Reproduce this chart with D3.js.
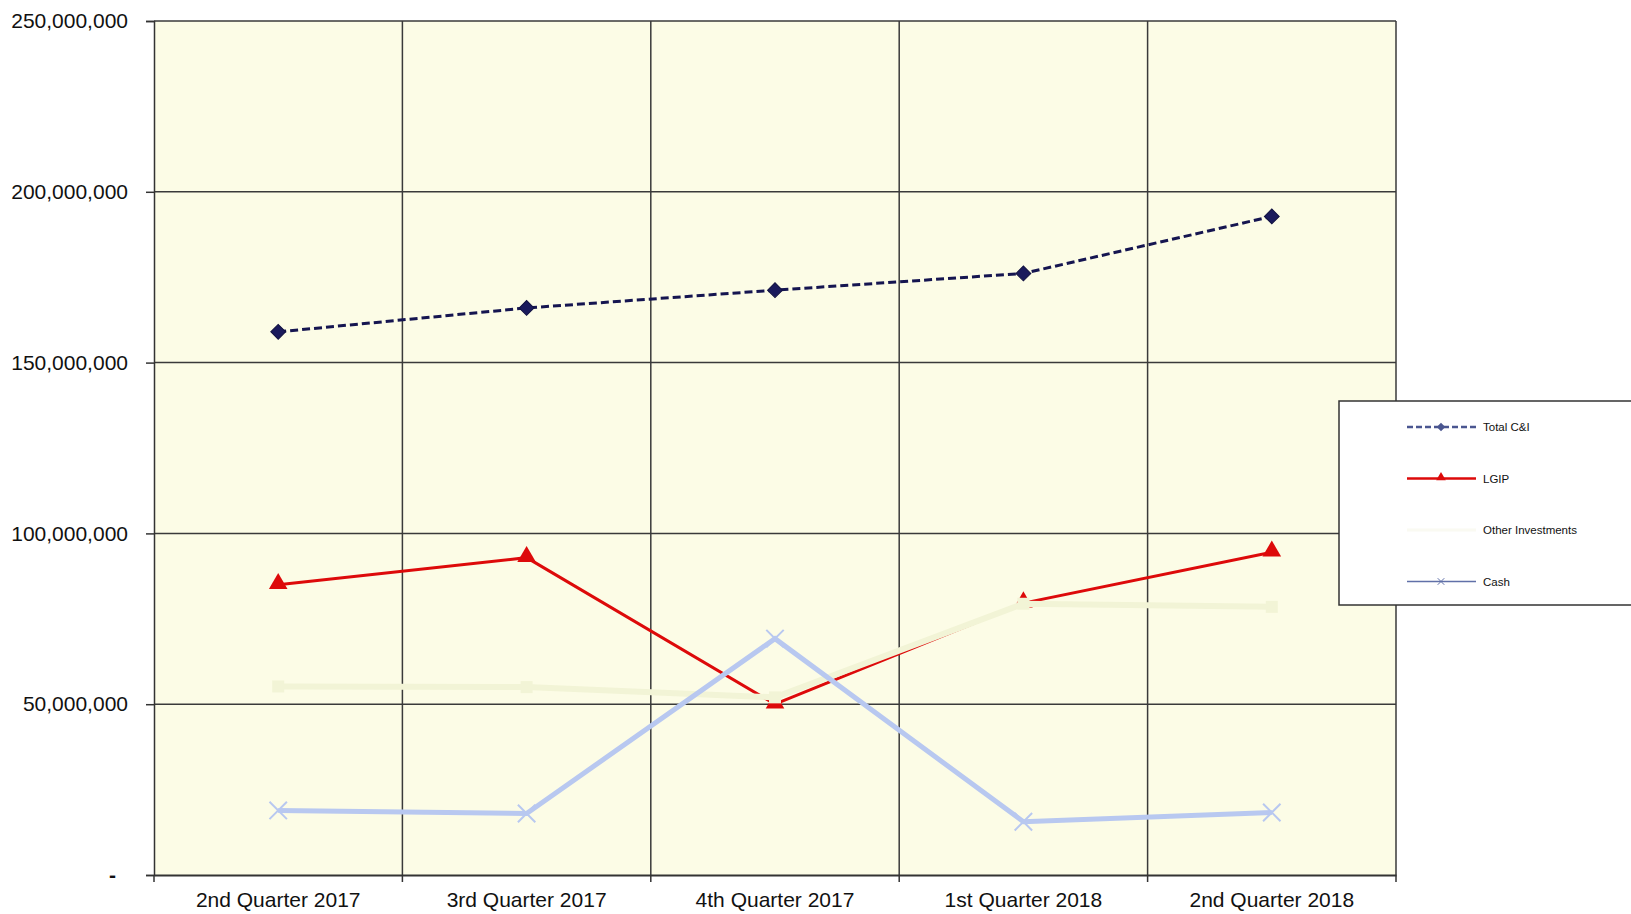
<!DOCTYPE html>
<html>
<head>
<meta charset="utf-8">
<script src="https://cdn.jsdelivr.net/npm/d3@7"></script>
<style>
  body { margin: 0; background: #fff; }
  svg { display: block; font-family: "Liberation Sans", Arial, sans-serif; }
</style>
</head>
<body>
<svg id="chart" width="1631" height="914"></svg>
<script>
// categories and series
var quarters = ["2nd Quarter 2017", "3rd Quarter 2017", "4th Quarter 2017", "1st Quarter 2018", "2nd Quarter 2018"];
var totalCI = [159.0e6, 166.0e6, 171.2e6, 176.1e6, 192.8e6];
var lgip = [85.0e6, 92.9e6, 50.0e6, 79.6e6, 94.5e6];
var otherInv = [55.2e6, 55.0e6, 52.0e6, 79.4e6, 78.5e6];
var cash = [18.9e6, 18.0e6, 69.2e6, 15.6e6, 18.3e6];
var yTicks = [0, 50e6, 100e6, 150e6, 200e6, 250e6];
var legendNames = ["Total C&I", "LGIP", "Other Investments", "Cash"];

var svg = d3.select("#chart");
// note: "top" is a reserved window prop, so use plot* names
var plotLeft = 154, plotRight = 1396, plotTop = 21, plotBottom = 875;

var x = d3.scaleBand().domain(quarters).range([plotLeft, plotRight]);
var y = d3.scaleLinear().domain([0, 250e6]).range([plotBottom, plotTop]);
var fmt = d3.format(",");

// plot background
svg.append("rect")
    .attr("x", plotLeft).attr("y", plotTop)
    .attr("width", plotRight - plotLeft).attr("height", plotBottom - plotTop)
    .attr("fill", "#fcfce6");

// horizontal grid
svg.append("g").selectAll("line")
    .data(yTicks.slice(1))
    .enter().append("line")
    .attr("x1", plotLeft).attr("x2", plotRight)
    .attr("y1", function (d) { return y(d); })
    .attr("y2", function (d) { return y(d); })
    .attr("stroke", "#3a3a3a").attr("stroke-width", 1.5);

// vertical grid at band boundaries
svg.append("g").selectAll("line")
    .data(quarters.slice(1))
    .enter().append("line")
    .attr("x1", function (d) { return x(d); })
    .attr("x2", function (d) { return x(d); })
    .attr("y1", plotTop).attr("y2", plotBottom)
    .attr("stroke", "#3a3a3a").attr("stroke-width", 1.5);

svg.append("line")
    .attr("x1", plotRight).attr("x2", plotRight).attr("y1", plotTop).attr("y2", plotBottom)
    .attr("stroke", "#3a3a3a").attr("stroke-width", 1.5);

// y axis
var yAxis = svg.append("g")
    .attr("transform", "translate(" + plotLeft + ",0)")
    .call(d3.axisLeft(y).tickValues(yTicks).tickSize(8).tickPadding(18)
        .tickFormat(function (d) { return d === 0 ? "-" : fmt(d); }));
yAxis.selectAll("text").attr("font-size", 21).attr("fill", "#111")
    .attr("font-family", "Liberation Sans, Arial, sans-serif");
yAxis.selectAll("line, path").attr("stroke", "#333").attr("stroke-width", 1.5);
yAxis.select(".tick text").attr("dx", -12).attr("font-weight", "bold");

// x axis, ticks at band edges
var xAxis = svg.append("g")
    .attr("transform", "translate(0," + plotBottom + ")")
    .call(d3.axisBottom(x).tickSize(0).tickPadding(17));
xAxis.selectAll("text").attr("font-size", 21).attr("fill", "#111")
    .attr("font-family", "Liberation Sans, Arial, sans-serif");
xAxis.select("path").attr("stroke", "#333").attr("stroke-width", 2);
xAxis.selectAll(".edge").data(quarters.concat(["end"]))
    .enter().append("line").attr("class", "edge")
    .attr("x1", function (d, i) { return i < quarters.length ? x(d) : plotRight; })
    .attr("x2", function (d, i) { return i < quarters.length ? x(d) : plotRight; })
    .attr("y1", 0).attr("y2", 7)
    .attr("stroke", "#333").attr("stroke-width", 1.5);

var cx = function (d, i) { return x(quarters[i]) + x.bandwidth() / 2; };
var line = d3.line().x(cx).y(function (d) { return y(d); });

// series drawn in legend order, later ones on top (like the original)

// Total C&I
svg.append("path").datum(totalCI).attr("d", line)
    .attr("fill", "none").attr("stroke", "#151550").attr("stroke-width", 3)
    .attr("stroke-dasharray", "8,4");
svg.append("g").selectAll("path").data(totalCI).enter().append("path")
    .attr("d", d3.symbol().type(d3.symbolSquare).size(110))
    .attr("transform", function (d, i) { return "translate(" + cx(d, i) + "," + y(d) + ") rotate(45)"; })
    .attr("fill", "#1a1a5c").attr("stroke", "#111140").attr("stroke-width", 1);

// LGIP
svg.append("path").datum(lgip).attr("d", line)
    .attr("fill", "none").attr("stroke", "#dd0a0a").attr("stroke-width", 3);
svg.append("g").selectAll("path").data(lgip).enter().append("path")
    .attr("d", d3.symbol().type(d3.symbolTriangle).size(150))
    .attr("transform", function (d, i) { return "translate(" + cx(d, i) + "," + (y(d) - 1) + ")"; })
    .attr("fill", "#dd0a0a");

// Other Investments (very pale)
svg.append("path").datum(otherInv).attr("d", line)
    .attr("fill", "none").attr("stroke", "#f2f4d6").attr("stroke-width", 6);
svg.append("g").selectAll("rect").data(otherInv).enter().append("rect")
    .attr("x", function (d, i) { return cx(d, i) - 6; })
    .attr("y", function (d) { return y(d) - 6; })
    .attr("width", 12).attr("height", 12)
    .attr("fill", "#f2f4d6");

// Cash
svg.append("path").datum(cash).attr("d", line)
    .attr("fill", "none").attr("stroke", "#b8c8f0").attr("stroke-width", 5);
svg.append("g").selectAll("path").data(cash).enter().append("path")
    .attr("d", d3.symbol().type(d3.symbolX).size(200))
    .attr("transform", function (d, i) { return "translate(" + cx(d, i) + "," + y(d) + ")"; })
    .attr("fill", "none").attr("stroke", "#b8c8f0").attr("stroke-width", 2);

// legend
var lg = svg.append("g").attr("transform", "translate(1339,401)");
lg.append("rect").attr("width", 320).attr("height", 204)
    .attr("fill", "#fff").attr("stroke", "#333").attr("stroke-width", 1.5);
var rows = lg.selectAll(".row").data(legendNames).enter().append("g")
    .attr("class", "row")
    .attr("transform", function (d, i) { return "translate(0," + (26 + i * 51.5) + ")"; });
rows.append("text").attr("x", 144).attr("y", 4)
    .attr("font-size", 11.5).attr("fill", "#111")
    .text(function (d) { return d; });

var r0 = d3.select(rows.nodes()[0]);
r0.append("line").attr("x1", 68).attr("x2", 137).attr("stroke", "#4a5690")
    .attr("stroke-width", 2.5).attr("stroke-dasharray", "6,3");
r0.append("path").attr("d", d3.symbol().type(d3.symbolSquare).size(36))
    .attr("transform", "translate(102,0) rotate(45)").attr("fill", "#4a5690");

var r1 = d3.select(rows.nodes()[1]);
r1.append("line").attr("x1", 68).attr("x2", 137).attr("stroke", "#dd0a0a").attr("stroke-width", 2.5);
r1.append("path").attr("d", d3.symbol().type(d3.symbolTriangle).size(40))
    .attr("transform", "translate(102,-1)").attr("fill", "#dd0a0a");

var r2 = d3.select(rows.nodes()[2]);
r2.append("line").attr("x1", 68).attr("x2", 137).attr("stroke", "#fafaf2").attr("stroke-width", 3);

var r3 = d3.select(rows.nodes()[3]);
r3.append("line").attr("x1", 68).attr("x2", 137).attr("stroke", "#6070a8").attr("stroke-width", 1.5);
r3.append("path").attr("d", d3.symbol().type(d3.symbolX).size(30))
    .attr("transform", "translate(102,0)").attr("fill", "none").attr("stroke", "#6070a8").attr("stroke-width", 1);
</script>
</body>
</html>
